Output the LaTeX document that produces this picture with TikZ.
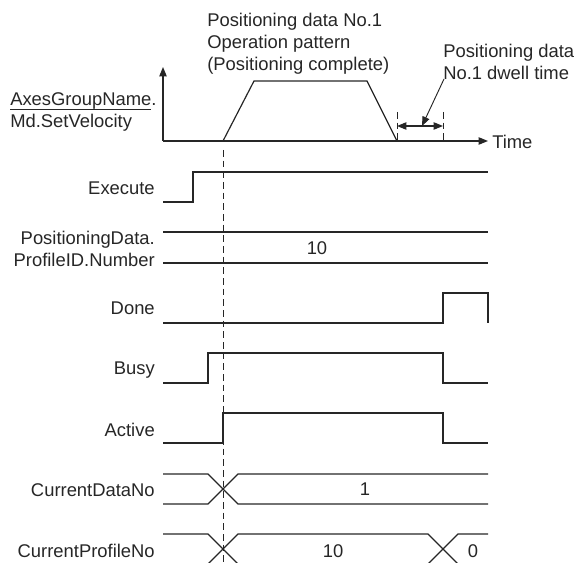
\documentclass[tikz,border=0pt]{standalone}
\usepackage{fontspec}
\setmainfont{Liberation Sans}
\usetikzlibrary{arrows.meta}

\begin{document}
\begin{tikzpicture}[x=0.75pt,y=-0.75pt,>={Triangle[length=7pt,width=5.5pt]},sig/.style={line width=0.9pt,draw=black!85},axis/.style={line width=0.9pt,draw=black!85,->},guide/.style={line width=0.6pt,draw=black!85,dash pattern=on 5pt off 3pt},lead/.style={line width=0.7pt,draw=black!85},lbl/.style={font=\fontsize{13.8}{16.5}\selectfont,text=black!85,inner sep=0pt}]
\useasboundingbox (0,0) rectangle (575,563);
\coordinate (O) at (163,141); \coordinate (Y) at (163,67); \coordinate (X) at (488,141);
\draw[axis] (O) -- (Y); \draw[axis] (O) -- (X);
\node[lbl,anchor=west] (time) at (492,142) {Time};
\node[lbl,anchor=base west] (axes) at (10,106) {AxesGroupName.};
\node[lbl,anchor=base west] (setvel) at (10,128) {Md.SetVelocity};
\draw[line width=0.5pt,draw=black!85] ([yshift=-2.2pt]axes.base west) -- ([xshift=-4pt,yshift=-2.2pt]axes.base east);
\node[lbl,anchor=west,align=left] (pattern) at (207,43.5) {Positioning data No.1\\Operation pattern\\(Positioning complete)};
\node[lbl,anchor=west,align=left] (dwell) at (443,62) {Positioning data\\No.1 dwell time};
\draw[sig] (223,141) -- (254,81) -- (367,81) -- (397,141);
\draw[guide] (397,112) -- (397,141); \draw[guide] (443,112) -- (443,141);
\coordinate (dL) at (397,126); \coordinate (dR) at (443,126); \coordinate (dM) at (422,126);
\draw[sig,<->] (dL) -- (dR); \draw[lead,->] ([shift={(1,-1)}]dwell.south west) -- (dM);
\draw[guide] (223,150) -- (223,564);
\node[lbl,anchor=east] (execute) at (155,188) {Execute};
\node[lbl,anchor=east,align=right] (profid) at (155,248.5) {PositioningData.\\ProfileID.Number};
\node[lbl,anchor=east] (done) at (155,308) {Done};
\node[lbl,anchor=east] (busy) at (155,370) {Busy};
\node[lbl,anchor=east] (active) at (155,430) {Active};
\node[lbl,anchor=east] (datano) at (155,490) {CurrentDataNo};
\node[lbl,anchor=east] (profno) at (155,551) {CurrentProfileNo};
\draw[sig] (163,202) -- (193,202) -- (193,172) -- (488,172);
\draw[sig] (163,232) -- (488,232); \draw[sig] (163,263) -- (488,263);
\node[lbl] (v10a) at (317,248) {10};
\draw[sig] (163,323) -- (443,323) -- (443,293) -- (488,293) -- (488,323);
\draw[sig] (163,383) -- (208,383) -- (208,353) -- (443,353) -- (443,383) -- (488,383);
\draw[sig] (163,443) -- (223,443) -- (223,413) -- (443,413) -- (443,443) -- (488,443);
\draw[sig] (163,474) -- (208,474) -- (238,504) -- (488,504); \draw[sig] (163,504) -- (208,504) -- (238,474) -- (488,474);
\node[lbl] (v1) at (365,489) {1};
\draw[sig] (163,534) -- (208,534) -- (238,564) -- (428,564) -- (458,534) -- (488,534);
\draw[sig] (163,564) -- (208,564) -- (238,534) -- (428,534) -- (458,564) -- (488,564);
\node[lbl] (v10b) at (333,551) {10}; \node[lbl] (v0) at (473,551) {0};
\end{tikzpicture}
\end{document}
